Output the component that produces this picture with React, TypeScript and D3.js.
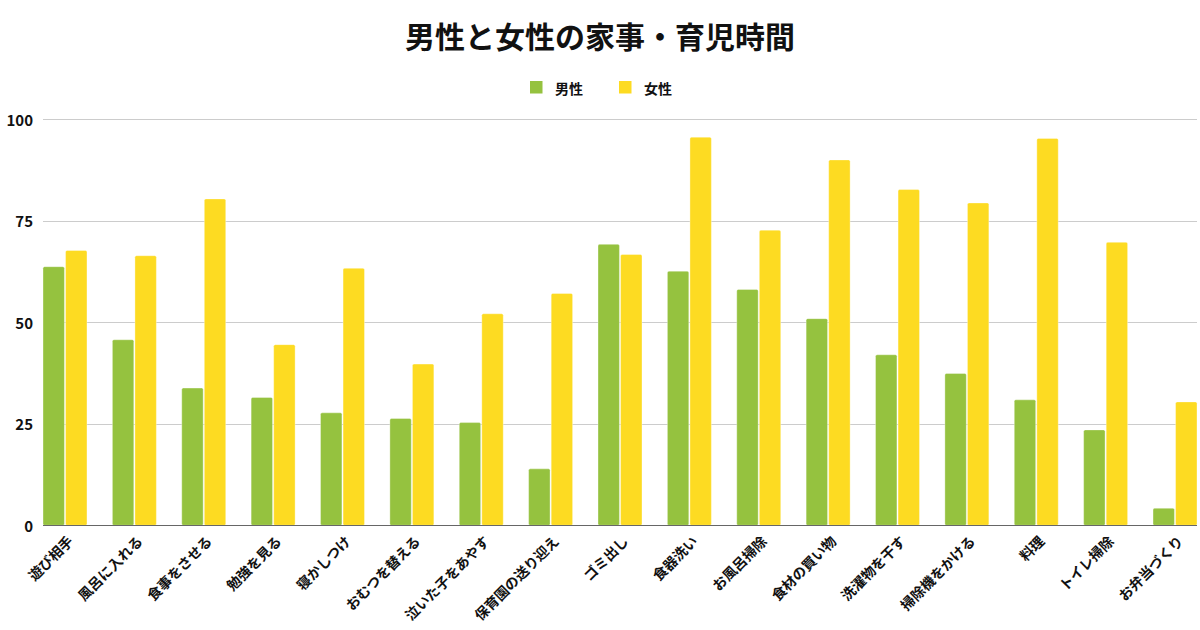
import React from "react";
import * as d3 from "d3";

const categories = [
  "遊び相手", "風呂に入れる", "食事をさせる", "勉強を見る", "寝かしつけ",
  "おむつを替える", "泣いた子をあやす", "保育園の送り迎え", "ゴミ出し", "食器洗い",
  "お風呂掃除", "食材の買い物", "洗濯物を干す", "掃除機をかける", "料理",
  "トイレ掃除", "お弁当づくり",
];
const menValues = [63.7, 45.7, 33.8, 31.5, 27.7, 26.3, 25.3, 13.9, 69.2, 62.6, 58.1, 50.9, 42.0, 37.4, 30.9, 23.5, 4.2];
const womenValues = [67.7, 66.4, 80.4, 44.5, 63.3, 39.7, 52.1, 57.1, 66.7, 95.6, 72.7, 90.0, 82.7, 79.4, 95.3, 69.7, 30.4];
const seriesNames = ["男性", "女性"];
const seriesColors = ["#95c23f", "#fddb22"];
const yTicks = [0, 25, 50, 75, 100];
const title = "男性と女性の家事・育児時間";

const W = 1200;
const H = 630;
const FONT = "'Noto Sans CJK JP', 'Noto Sans', sans-serif";

export default function App() {
  const x0 = d3.scaleBand<string>().domain(categories).range([43, 1197]).paddingInner(0.366).paddingOuter(0);
  const x1 = d3.scaleBand<string>().domain(seriesNames).range([0, x0.bandwidth()]).paddingInner(0.05);
  const y = d3.scaleLinear().domain([0, 100]).range([525.3, 119.3]);
  const series = [menValues, womenValues];

  return (
    <svg width={W} height={H} style={{ position: "absolute", left: 0, top: 0, background: "#fff" }} fontFamily={FONT}>
      <rect x={0} y={0} width={W} height={H} fill="#fff" />
      <text x={600} y={35} textAnchor="middle" dominantBaseline="central" fontSize={30} fontWeight={700} fill="#111">{title}</text>
      {/* legend */}
      {seriesNames.map((n, i) => {
        const lx = [530, 619][i];
        return (
          <g key={n}>
            <rect x={lx} y={81} width={12.5} height={12.5} fill={seriesColors[i]} />
            <text x={lx + 25} y={87.5} dominantBaseline="central" fontSize={14} fontWeight={700} fill="#111">{n}</text>
          </g>
        );
      })}
      {/* grid */}
      {yTicks.map((t) => (
        <g key={t}>
          {t !== 0 && <line x1={43} x2={1197} y1={Math.round(y(t)) + 0.5} y2={Math.round(y(t)) + 0.5} stroke="#cccccc" strokeWidth={1} />}
          <text x={33} y={y(t)} textAnchor="end" dominantBaseline="central" fontSize={15} fontWeight={600} fill="#111">{t}</text>
        </g>
      ))}
      {/* bars */}
      {categories.map((c, ci) => (
        <g key={c} transform={`translate(${x0(c)},0)`}>
          {seriesNames.map((s, si) => {
            const v = series[si][ci];
            return (
              <rect key={s} x={x1(s)} y={y(v)} width={x1.bandwidth()} height={y(0) - y(v)} rx={1.5}
                fill={seriesColors[si]} stroke="#ffffff" strokeOpacity={0.35} strokeWidth={1} />
            );
          })}
        </g>
      ))}
      <line x1={43} x2={1197} y1={525.5} y2={525.5} stroke="#666" strokeWidth={1.2} />
      {/* x labels */}
      {categories.map((c) => {
        const cx = (x0(c) as number) + x0.bandwidth() / 2 + 5;
        return (
          <text key={c} transform={`translate(${cx},538) rotate(-45)`} textAnchor="end" dominantBaseline="central"
            fontSize={14} fontWeight={600} fill="#111">{c}</text>
        );
      })}
    </svg>
  );
}
